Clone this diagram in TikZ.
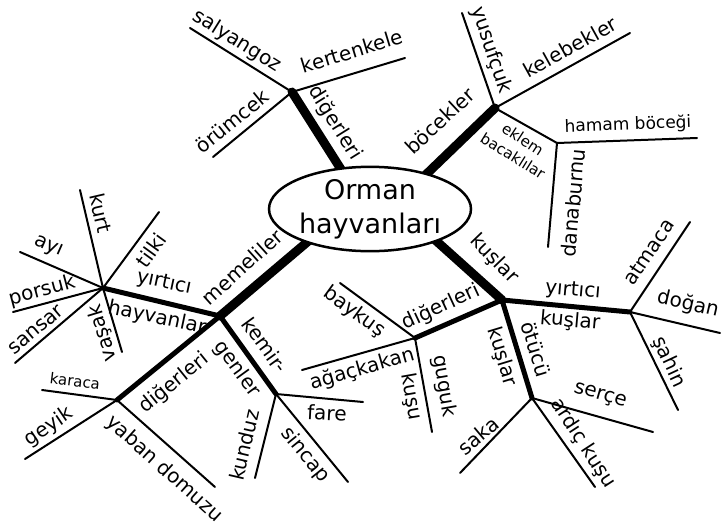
\documentclass[tikz,border=0pt]{standalone}
\usepackage{fontspec}
\setmainfont{DejaVu Sans}
\usetikzlibrary{shapes.geometric,backgrounds}
\begin{document}
\begin{tikzpicture}[x=1pt,y=-1pt,
  lab/.style={font=\fontsize{20}{24}\selectfont, inner sep=0pt},
  sml/.style={font=\fontsize{15}{17}\selectfont, inner sep=0pt},
  leaf/.style={line width=2pt, line cap=round},
  mid/.style={line width=5pt, line cap=round},
  trunk/.style={line width=9pt, line cap=round, shorten >=-10pt},
]
\useasboundingbox (0,0) rectangle (722,525);

% centre
\node[draw, ellipse, line width=2.5pt, fill=white, minimum width=202pt,
      minimum height=82pt, inner sep=0pt, align=center,
      font=\fontsize{27}{34}\selectfont] (center) at (370,209) {Orman\\hayvanları};

% junctions
\coordinate (jD) at (292,92);
\coordinate (jB) at (495,108);
\coordinate (jE) at (557,143);
\coordinate (jM) at (220,316);
\coordinate (jY) at (103,288);
\coordinate (jMD) at (117,400);
\coordinate (jK) at (276,394);
\coordinate (jQ) at (502,300);
\coordinate (jYK) at (630,312);
\coordinate (jKD) at (415,338);
\coordinate (jO) at (532,398);

% leaf ends
\coordinate (eSal) at (190,28);
\coordinate (eKer) at (405,58);
\coordinate (eOru) at (213,157);
\coordinate (eYus) at (462,13);
\coordinate (eKel) at (630,33);
\coordinate (eHam) at (697,138);
\coordinate (eDan) at (548,247);
\coordinate (eKurt) at (80,190);
\coordinate (eTil) at (159,212);
\coordinate (eAyi) at (20,252);
\coordinate (ePor) at (13,312);
\coordinate (eSan) at (15,363);
\coordinate (eVas) at (122,352);
\coordinate (eKar) at (42,390);
\coordinate (eGey) at (25,459);
\coordinate (eYab) at (215,487);
\coordinate (eFare) at (363,402);
\coordinate (eKun) at (255,478);
\coordinate (eSin) at (348,482);
\coordinate (eAtm) at (690,222);
\coordinate (eDog) at (720,333);
\coordinate (eSah) at (678,410);
\coordinate (eBay) at (340,283);
\coordinate (eAga) at (302,370);
\coordinate (eGug) at (432,432);
\coordinate (eSer) at (653,432);
\coordinate (eSak) at (460,473);
\coordinate (eArd) at (595,487);

\begin{scope}[on background layer]
  % trunks
  \draw[trunk] (jD) -- (center.126);
  \draw[trunk] (jB) -- (center.32);
  \draw[trunk] (jM) -- (center.208);
  \draw[trunk] (jQ) -- (center.334);
  % secondary
  \draw[mid] (jM) -- (jY);
  \draw[mid] (jM) -- (jMD);
  \draw[mid] (jM) -- (jK);
  \draw[mid] (jQ) -- (jYK);
  \draw[mid] (jQ) -- (jKD);
  \draw[mid] (jQ) -- (jO);
  % leaves
  \draw[leaf] (jD) -- (eSal);
  \draw[leaf] (jD) -- (eKer);
  \draw[leaf] (jD) -- (eOru);
  \draw[leaf] (jB) -- (eYus);
  \draw[leaf] (jB) -- (eKel);
  \draw[leaf] (jB) -- (jE);
  \draw[leaf] (jE) -- (eHam);
  \draw[leaf] (jE) -- (eDan);
  \draw[leaf] (jY) -- (eKurt);
  \draw[leaf] (jY) -- (eTil);
  \draw[leaf] (jY) -- (eAyi);
  \draw[leaf] (jY) -- (ePor);
  \draw[leaf] (jY) -- (eSan);
  \draw[leaf] (jY) -- (eVas);
  \draw[leaf] (jMD) -- (eKar);
  \draw[leaf] (jMD) -- (eGey);
  \draw[leaf] (jMD) -- (eYab);
  \draw[leaf] (jK) -- (eFare);
  \draw[leaf] (jK) -- (eKun);
  \draw[leaf] (jK) -- (eSin);
  \draw[leaf] (jYK) -- (eAtm);
  \draw[leaf] (jYK) -- (eDog);
  \draw[leaf] (jYK) -- (eSah);
  \draw[leaf] (jKD) -- (eBay);
  \draw[leaf] (jKD) -- (eAga);
  \draw[leaf] (jKD) -- (eGug);
  \draw[leaf] (jO) -- (eSer);
  \draw[leaf] (jO) -- (eSak);
  \draw[leaf] (jO) -- (eArd);
\end{scope}

% labels: diğerleri (top)
\node[lab, rotate=-32] (tSal) at (237,41) {salyangoz};
\node[lab, rotate=17] (tKer) at (352,51) {kertenkele};
\node[lab, rotate=39] (tOru) at (232,121) {örümcek};
\node[lab, rotate=-58] (tDig1) at (335,123) {diğerleri};
% böcekler
\node[lab, rotate=43] (tBoc) at (440,121) {böcekler};
\node[lab, rotate=-71] (tYus) at (491,50) {yusufçuk};
\node[lab, rotate=29] (tKel) at (570,47) {kelebekler};
\node[sml, rotate=-33] (tEkl1) at (523,139) {eklem};
\node[sml, rotate=-32] (tEkl2) at (513,156) {bacaklılar};
\node[inner sep=0pt, font=\fontsize{17}{19}\selectfont, rotate=2] (tHam) at (628,125) {hamam böceği};
\node[lab, rotate=85] (tDan) at (573,203) {danaburnu};
% memeliler
\node[lab, rotate=42] (tMem) at (242,267) {memeliler};
\node[lab, rotate=-12] (tYH1) at (164,283) {yırtıcı};
\node[lab, rotate=-12] (tYH2) at (157,318) {hayvanlar};
\node[lab, rotate=-77] (tKurt) at (101,213) {kurt};
\node[lab, rotate=54] (tTil) at (151,250) {tilki};
\node[lab, rotate=-24] (tAyi) at (48,247) {ayı};
\node[lab, rotate=15] (tPor) at (42,291) {porsuk};
\node[lab, rotate=40] (tSan) at (36,330) {sansar};
\node[lab, rotate=107] (tVas) at (103,333) {vaşak};
\node[lab, rotate=39] (tDig2) at (174,383) {diğerleri};
\node[sml, rotate=-7] (tKar) at (75,381) {karaca};
\node[lab, rotate=34] (tGey) at (49,427) {geyik};
\node[lab, rotate=-42] (tYab) at (164,469) {yaban domuzu};
\node[lab, rotate=-54] (tKem1) at (265,345) {kemir-};
\node[lab, rotate=-54] (tKem2) at (237,369) {genler};
\node[lab, rotate=-3] (tFare) at (327,413) {fare};
\node[lab, rotate=77] (tKun) at (244,445) {kunduz};
\node[lab, rotate=-51] (tSin) at (305,455) {sincap};
% kuşlar
\node[lab, rotate=-46] (tKus) at (494,259) {kuşlar};
\node[lab, rotate=-5] (tYK1) at (573,291) {yırtıcı};
\node[lab, rotate=-5] (tYK2) at (570,321) {kuşlar};
\node[lab, rotate=56] (tAtm) at (649,252) {atmaca};
\node[lab, rotate=-13] (tDog) at (688,304) {doğan};
\node[lab, rotate=-65] (tSah) at (669,362) {şahin};
\node[lab, rotate=25] (tDig3) at (441,307) {diğerleri};
\node[lab, rotate=-36] (tBay) at (354,312) {baykuş};
\node[lab, rotate=16] (tAga) at (362,369) {ağaçkakan};
\node[lab, rotate=-80] (tGug1) at (444,386) {guguk};
\node[lab, rotate=-80] (tGug2) at (411,397) {kuşu};
\node[lab, rotate=-73] (tOtu1) at (536,349) {ötücü};
\node[lab, rotate=-73] (tOtu2) at (502,357) {kuşlar};
\node[lab, rotate=-16] (tSer) at (600,396) {serçe};
\node[lab, rotate=40] (tSak) at (478,436) {saka};
\node[lab, rotate=-57] (tArd) at (583,443) {ardıç kuşu};
\end{tikzpicture}
\end{document}
